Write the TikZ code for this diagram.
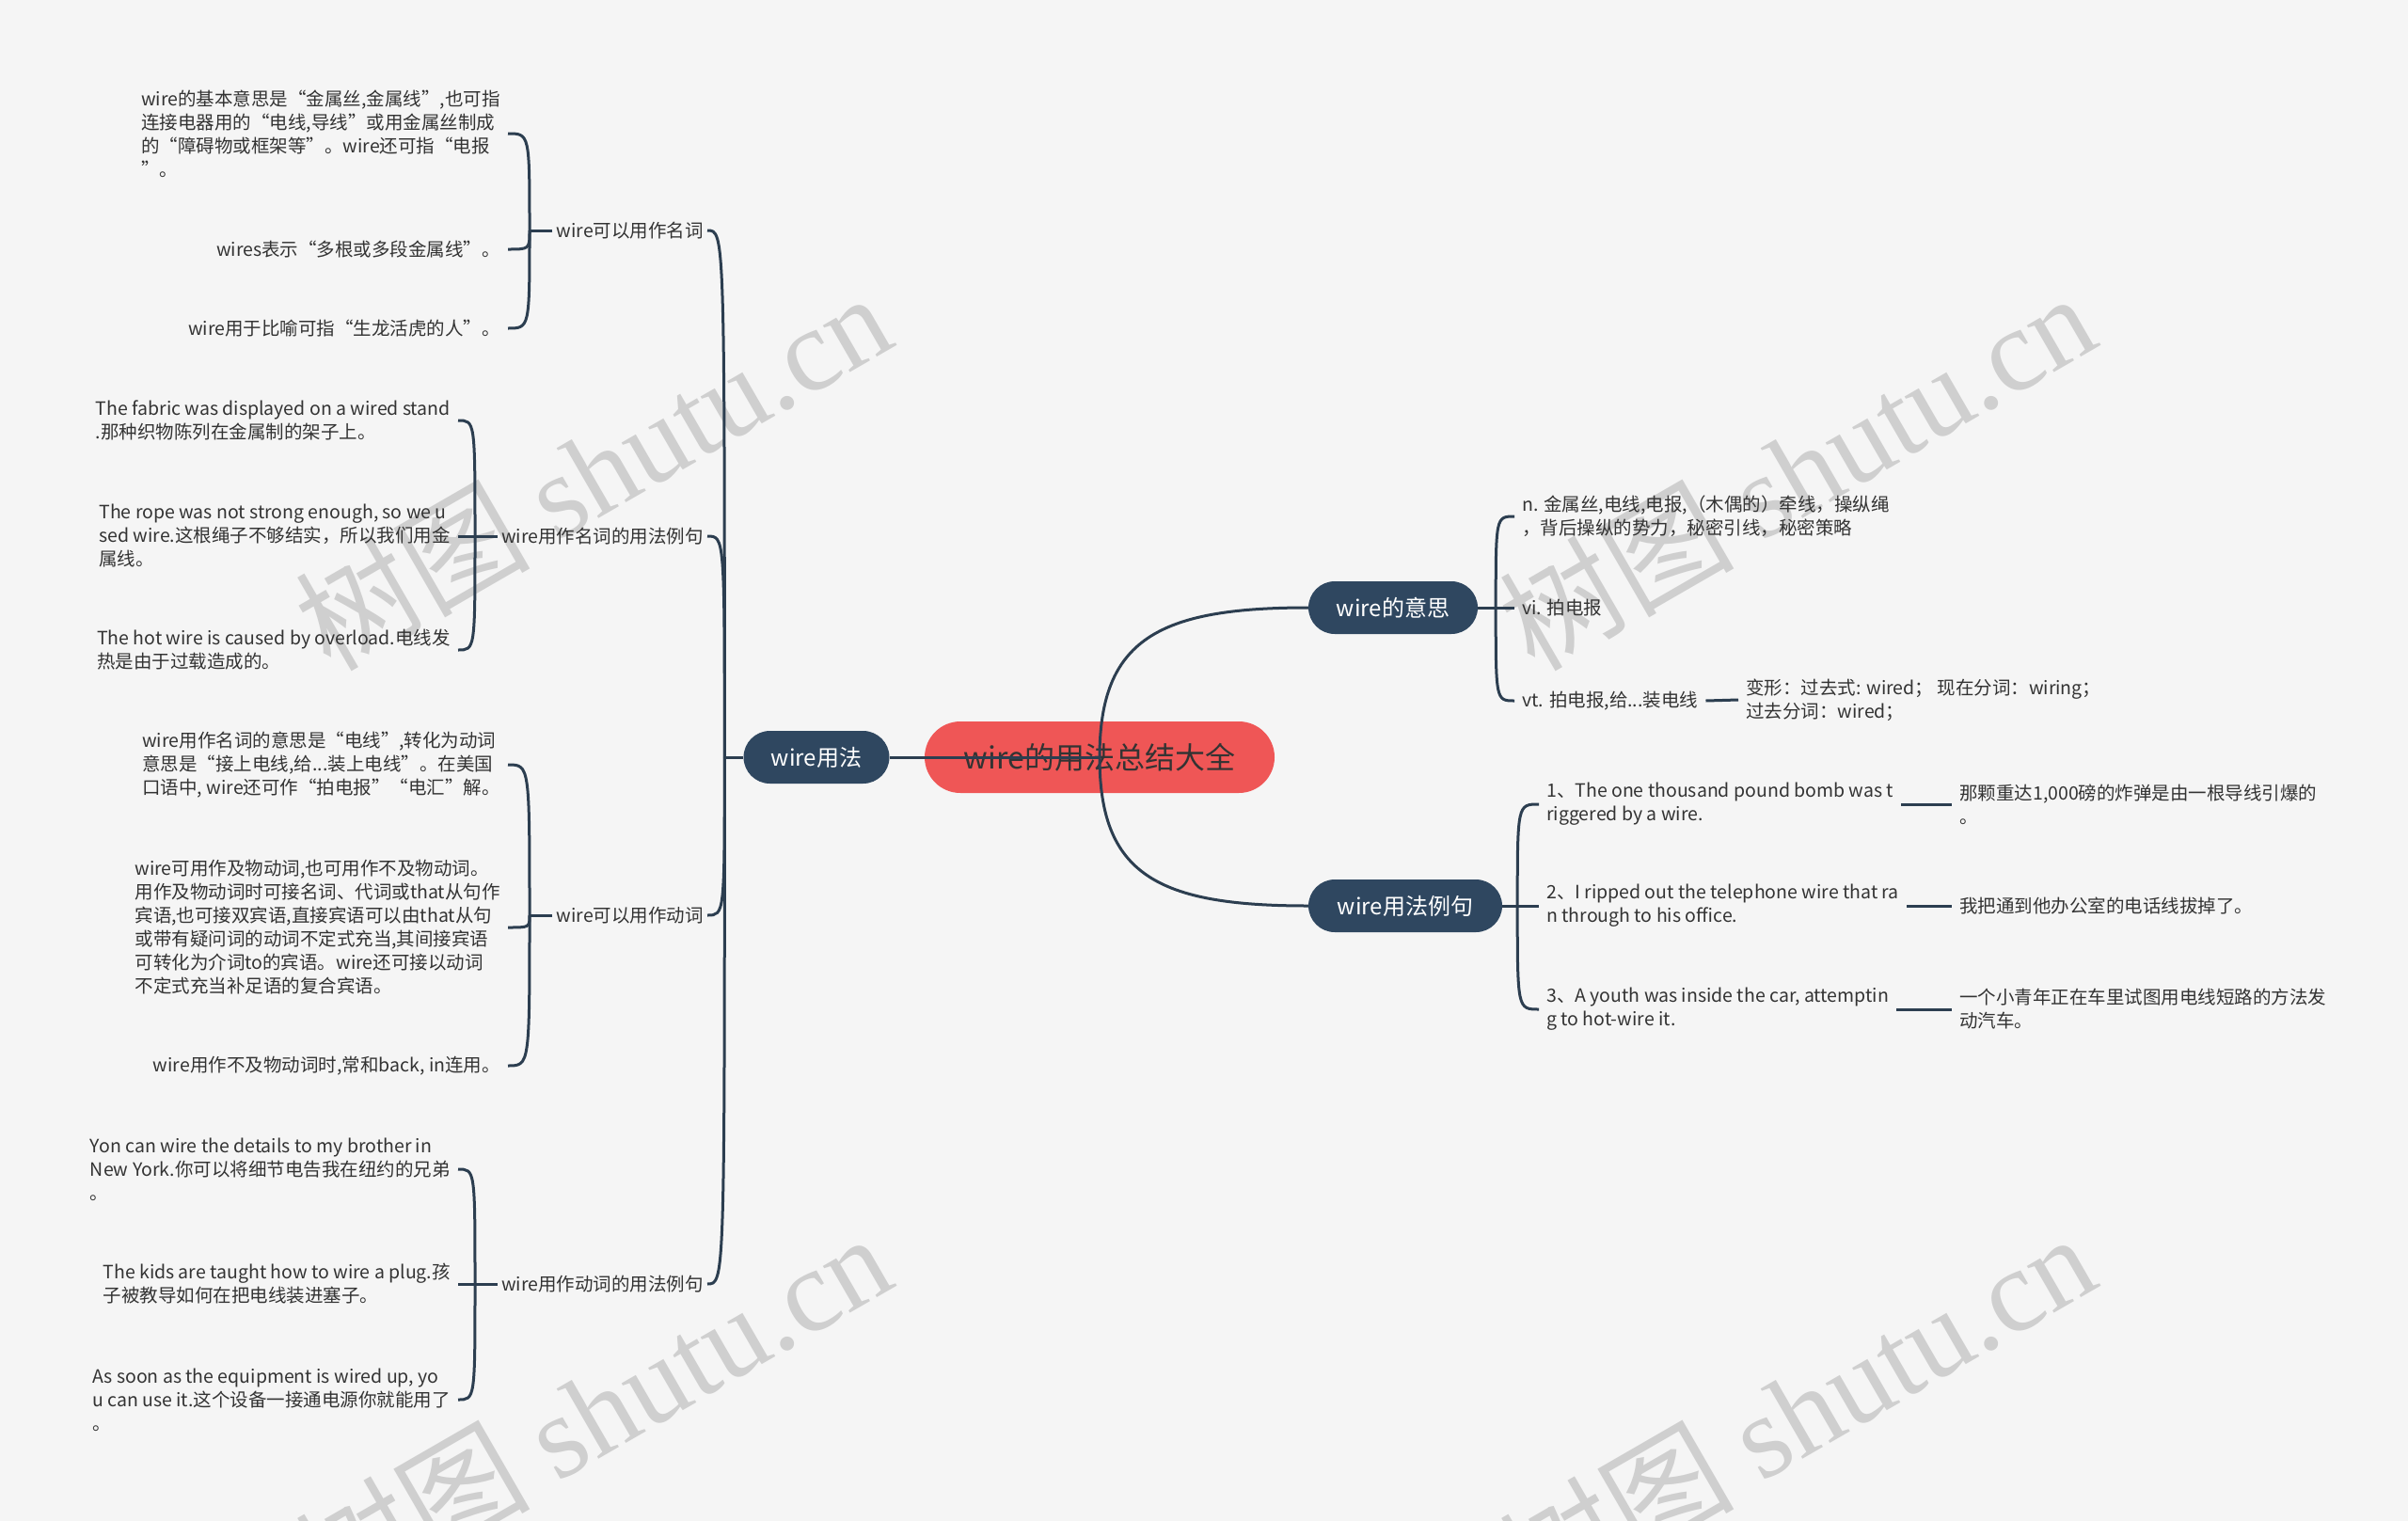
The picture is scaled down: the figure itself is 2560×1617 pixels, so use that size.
\documentclass[tikz,border=0pt]{standalone}
\usepackage{fontspec}
\setmainfont{Noto Sans CJK SC}
\newfontfamily\wmfont{Liberation Serif}
\usetikzlibrary{calc,positioning}
\definecolor{bgcol}{HTML}{F5F5F5}
\definecolor{navy}{HTML}{2F4760}
\definecolor{rootred}{HTML}{EF5656}
\definecolor{linecol}{HTML}{2C3E50}
\definecolor{inkcol}{HTML}{333333}
\definecolor{wmcol}{HTML}{CFCFCF}

\begin{document}
\begin{tikzpicture}[x=1pt,y=-1pt,
  leaf/.style={inner sep=8pt,align=left,text=inkcol,font=\fontsize{19.5}{25}\selectfont},
  branch/.style={inner sep=4pt,text=inkcol,font=\fontsize{19.5}{25}\selectfont},
  topic/.style={fill=navy,text=white,rounded corners=28pt,minimum height=56pt,inner sep=0pt,font=\fontsize{24}{28}\selectfont},
  link/.style={draw=linecol,line width=3pt},
  brace/.style={to path={.. controls (\tikztostart |- \tikztotarget) and (\tikztostart |- \tikztotarget) .. (\tikztotarget)}},
  wmark/.style={text=wmcol,rotate=30,font=\fontsize{125}{125}\selectfont}]
\fill[bgcol] (0,0) rectangle (2560,1617);
\useasboundingbox (0,0) rectangle (2560,1617);
% watermarks
\node[wmark] (wm1) at (630,500) {树图 {\wmfont shutu.cn}};
\node[wmark] (wm2) at (1910,500) {树图 {\wmfont shutu.cn}};
\node[wmark] (wm3) at (630,1500) {树图 {\wmfont shutu.cn}};
\node[wmark] (wm4) at (1910,1500) {树图 {\wmfont shutu.cn}};

% main topics
\node[fill=rootred,text=inkcol,rounded corners=38pt,minimum width=372pt,minimum height=76pt,font=\fontsize{32}{36}\selectfont] (root) at (1169,805) {wire的用法总结大全};
\node[topic,minimum width=155pt] (usage) at (868,805) {wire用法};
\node[topic,minimum width=180pt] (meaning) at (1481,646) {wire的意思};
\node[topic,minimum width=206pt] (examples) at (1494,963) {wire用法例句};

% left branches
\node[branch,anchor=east] (nounuse) at (752,245) {wire可以用作名词};
\node[branch,anchor=east] (nounex) at (752,570) {wire用作名词的用法例句};
\node[branch,anchor=east] (verbuse) at (752,973) {wire可以用作动词};
\node[branch,anchor=east] (verbex) at (752,1365) {wire用作动词的用法例句};

\node[leaf,anchor=east] (a1) at (540,142) {wire的基本意思是“金属丝,金属线”,也可指\\连接电器用的“电线,导线”或用金属丝制成\\的“障碍物或框架等”。wire还可指“电报\\”。};
\node[leaf,anchor=east] (a2) at (540,265) {wires表示“多根或多段金属线”。};
\node[leaf,anchor=east] (a3) at (540,349) {wire用于比喻可指“生龙活虎的人”。};

\node[leaf,anchor=east] (b1) at (487,447) {The fabric was displayed on a wired stand\\.那种织物陈列在金属制的架子上。};
\node[leaf,anchor=east] (b2) at (487,570) {The rope was not strong enough, so we u\\sed wire.这根绳子不够结实，所以我们用金\\属线。};
\node[leaf,anchor=east] (b3) at (487,691) {The hot wire is caused by overload.电线发\\热是由于过载造成的。};

\node[leaf,anchor=east] (c1) at (540,813) {wire用作名词的意思是“电线”,转化为动词\\意思是“接上电线,给...装上电线”。在美国\\口语中, wire还可作“拍电报”“电汇”解。};
\node[leaf,anchor=east] (c2) at (540,986) {wire可用作及物动词,也可用作不及物动词。\\用作及物动词时可接名词、代词或that从句作\\宾语,也可接双宾语,直接宾语可以由that从句\\或带有疑问词的动词不定式充当,其间接宾语\\可转化为介词to的宾语。wire还可接以动词\\不定式充当补足语的复合宾语。};
\node[leaf,anchor=east] (c3) at (540,1133) {wire用作不及物动词时,常和back, in连用。};

\node[leaf,anchor=east] (d1) at (487,1243) {Yon can wire the details to my brother in\\New York.你可以将细节电告我在纽约的兄弟\\。};
\node[leaf,anchor=east] (d2) at (487,1365) {The kids are taught how to wire a plug.孩\\子被教导如何在把电线装进塞子。};
\node[leaf,anchor=east] (d3) at (487,1488) {As soon as the equipment is wired up, yo\\u can use it.这个设备一接通电源你就能用了\\。};

% right branches
\node[leaf,anchor=west] (mn) at (1610,549) {n. 金属丝,电线,电报,（木偶的）牵线，操纵绳\\，背后操纵的势力，秘密引线，秘密策略};
\node[leaf,anchor=west] (mvi) at (1610,646) {vi. 拍电报};
\node[leaf,anchor=west] (mvt) at (1610,745) {vt. 拍电报,给...装电线};
\node[leaf,anchor=west] (mforms) at (1848,744) {变形：过去式: wired；\ 现在分词：wiring；\\过去分词：wired；};

\node[leaf,anchor=west] (e1) at (1636,855) {1、The one thousand pound bomb was t\\riggered by a wire.};
\node[leaf,anchor=west] (e2) at (1636,963) {2、I ripped out the telephone wire that ra\\n through to his office.};
\node[leaf,anchor=west] (e3) at (1636,1073) {3、A youth was inside the car, attemptin\\g to hot-wire it.};
\node[leaf,anchor=west] (t1) at (2075,855) {那颗重达1,000磅的炸弹是由一根导线引爆的\\。};
\node[leaf,anchor=west] (t2) at (2075,963) {我把通到他办公室的电话线拔掉了。};
\node[leaf,anchor=west] (t3) at (2075,1073) {一个小青年正在车里试图用电线短路的方法发\\动汽车。};

% hubs
\coordinate (lhub) at ([xshift=-20pt]usage.west);
\coordinate (mhub) at ([xshift=19pt]meaning.east);
\coordinate (ehub) at ([xshift=16pt]examples.east);
\coordinate (nuhub) at (563,245);
\coordinate (nehub) at (505,570);
\coordinate (vuhub) at (563,973);
\coordinate (vehub) at (505,1365);

% connectors
\draw[link] (root.center) -- (usage.east);
\draw[link] (root.center) .. controls +(0,-125) and +(-160,0) .. (meaning.west);
\draw[link] (root.center) .. controls +(0,125) and +(-160,0) .. (examples.west);

\draw[link] (usage.west) -- (lhub);
\draw[link] (lhub) to[brace] (nounuse.east);
\draw[link] (lhub) to[brace] (nounex.east);
\draw[link] (lhub) to[brace] (verbuse.east);
\draw[link] (lhub) to[brace] (verbex.east);

\draw[link] (nounuse.west) -- (nuhub);
\draw[link] (nuhub) to[brace] (a1.east);
\draw[link] (nuhub) to[brace] (a2.east);
\draw[link] (nuhub) to[brace] (a3.east);
\draw[link] (nounex.west) -- (nehub);
\draw[link] (nehub) to[brace] (b1.east);
\draw[link] (nehub) to[brace] (b2.east);
\draw[link] (nehub) to[brace] (b3.east);
\draw[link] (verbuse.west) -- (vuhub);
\draw[link] (vuhub) to[brace] (c1.east);
\draw[link] (vuhub) to[brace] (c2.east);
\draw[link] (vuhub) to[brace] (c3.east);
\draw[link] (verbex.west) -- (vehub);
\draw[link] (vehub) to[brace] (d1.east);
\draw[link] (vehub) to[brace] (d2.east);
\draw[link] (vehub) to[brace] (d3.east);

\draw[link] (meaning.east) -- (mhub);
\draw[link] (mhub) to[brace] (mn.west);
\draw[link] (mhub) to[brace] (mvi.west);
\draw[link] (mhub) to[brace] (mvt.west);
\draw[link] (mvt.east) -- (mforms.west);

\draw[link] (examples.east) -- (ehub);
\draw[link] (ehub) to[brace] (e1.west);
\draw[link] (ehub) to[brace] (e2.west);
\draw[link] (ehub) to[brace] (e3.west);
\draw[link] (e1.east) -- (t1.west);
\draw[link] (e2.east) -- (t2.west);
\draw[link] (e3.east) -- (t3.west);
\end{tikzpicture}
\end{document}
